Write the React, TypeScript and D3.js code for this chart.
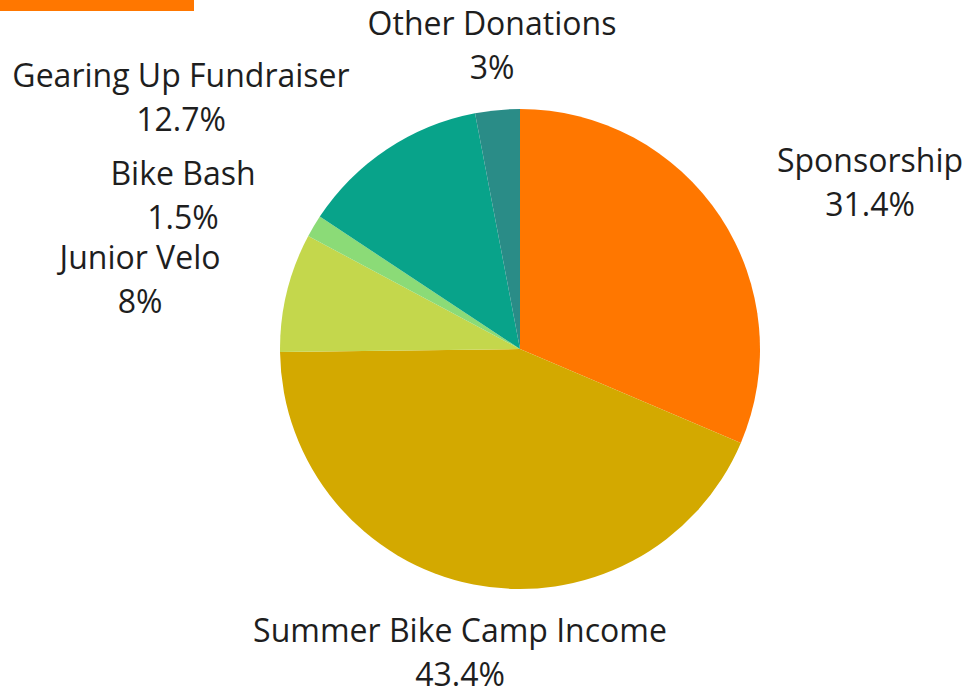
import React from "react";
import * as d3 from "d3";

const categories = [
  "Sponsorship",
  "Summer Bike Camp Income",
  "Junior Velo",
  "Bike Bash",
  "Gearing Up Fundraiser",
  "Other Donations",
];
const values = [31.4, 43.4, 8, 1.5, 12.7, 3];
const colors = ["#FF7700", "#D3A900", "#C4D74C", "#8BDB77", "#08A38A", "#2A8C87"];

// label layout (center x, first baseline y)
const labelLayout: [number, number][] = [
  [870, 172],
  [460, 642],
  [140, 269],
  [183, 185],
  [181, 87],
  [492, 35],
];

const W = 975;
const H = 692;
const cx = 520;
const cy = 349;
const R = 240;

export default function App() {
  const pie = d3.pie<number>().sort(null).value((d) => d);
  const arcs = pie(values);
  const arc = d3.arc<d3.PieArcDatum<number>>().innerRadius(0).outerRadius(R);
  return (
    <svg
      width={W}
      height={H}
      style={{ position: "absolute", left: 0, top: 0 }}
      fontFamily="'Open Sans', sans-serif"
    >
      <rect x={0} y={0} width={W} height={H} fill="#fff" />
      <rect x={0} y={0} width={194} height={11} fill="#FF7700" />
      <g transform={`translate(${cx},${cy})`}>
        {arcs.map((a, i) => (
          <path key={i} d={arc(a) || ""} fill={colors[i]} />
        ))}
      </g>
      {categories.map((c, i) => (
        <text
          key={c}
          x={labelLayout[i][0]}
          y={labelLayout[i][1]}
          textAnchor="middle"
          fontSize={32}
          fill="#1e1e1e"
        >
          <tspan x={labelLayout[i][0]}>{c}</tspan>
          <tspan x={labelLayout[i][0]} dy={44}>
            {values[i]}%
          </tspan>
        </text>
      ))}
    </svg>
  );
}
